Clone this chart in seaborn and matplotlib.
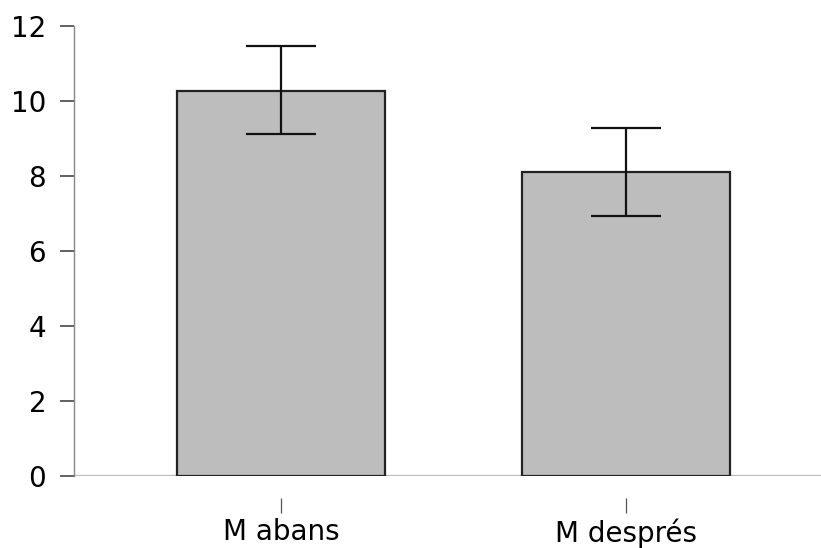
import matplotlib
matplotlib.use("Agg")
import matplotlib.pyplot as plt
import seaborn as sns
import pandas as pd
import numpy as np

categories = ["M abans", "M després"]
means = [10.28, 8.11]
err_low = [9.11, 6.94]
err_high = [11.46, 9.28]
yticks = [0, 2, 4, 6, 8, 10, 12]

sns.set_style("white")
plt.rcParams['font.family'] = ['DejaVu Sans']

fig = plt.figure(figsize=(8.21, 5.48), dpi=100)
ax = fig.add_axes([74/821, 1-476/548, 1-74/821, (476-26)/548])

df = pd.DataFrame({"cat": categories, "val": means})
sns.barplot(data=df, x="cat", y="val", ax=ax, color="#bdbdbd", saturation=1,
            width=0.603, edgecolor="#222222", linewidth=1.6, errorbar=None)

xs = np.arange(len(categories))
m = np.array(means)
yerr = np.vstack([m - np.array(err_low), np.array(err_high) - m])
ax.errorbar(xs, m, yerr=yerr, fmt="none", ecolor="#111111", elinewidth=1.6,
            capsize=25, capthick=1.6, zorder=5)

ax.axhline(0, color="#bbbbbb", lw=1.6, zorder=0)
ax.set_xlim(-0.6, 1.565)
ax.set_ylim(0, 12)
ax.set_yticks(yticks)
ax.set_yticklabels([str(t) for t in yticks])
ax.set_xlabel("")
ax.set_ylabel("")

for s in ["top", "right"]:
    ax.spines[s].set_visible(False)
ax.spines["left"].set_color("#888888")
ax.spines["left"].set_linewidth(1.0)
ax.spines["bottom"].set_position(("outward", 16))
ax.spines["bottom"].set_visible(False)

ax.tick_params(axis="y", length=10, width=1.3, color="#555555", pad=10,
               labelsize=20, labelcolor="black", direction="out", left=True)
ax.tick_params(axis="x", length=10.5, width=0.9, color="#555555", pad=4,
               labelsize=20, labelcolor="black", direction="out", bottom=True)

fig.savefig("out.png", dpi=100)
